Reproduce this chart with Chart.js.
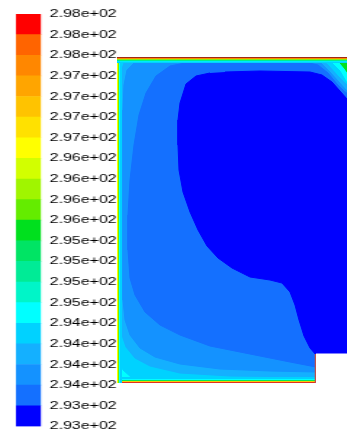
<!DOCTYPE html>
<html>
<head>
<meta charset="utf-8">
<script src="https://cdn.jsdelivr.net/npm/chart.js@4.4.1/dist/chart.umd.min.js"></script>
<style>
  html, body { margin: 0; padding: 0; background: #fff; width: 347px; height: 432px; overflow: hidden; }
  #legendBox { position: absolute; left: 0; top: 0; width: 90px; height: 439px; transform: scaleX(1.45); transform-origin: 0 0; }
  #plotBox { position: absolute; left: 0; top: 0; width: 347px; height: 432px; }
</style>
</head>
<body>
<div id="legendBox"><canvas id="legend"></canvas></div>
<div id="plotBox"><canvas id="plot"></canvas></div>
<script>
// Static temperature contour levels (K), bottom to top of the colour bar
const levels = [293.15, 293.40, 293.65, 293.90, 294.15, 294.40, 294.65, 294.90, 295.15, 295.40,
                295.65, 295.90, 296.15, 296.40, 296.65, 296.90, 297.15, 297.40, 297.65, 297.90, 298.15];
const tickLabels = ["2.93e+02", "2.93e+02", "2.94e+02", "2.94e+02", "2.94e+02", "2.94e+02", "2.95e+02",
                    "2.95e+02", "2.95e+02", "2.95e+02", "2.96e+02", "2.96e+02", "2.96e+02", "2.96e+02",
                    "2.97e+02", "2.97e+02", "2.97e+02", "2.97e+02", "2.98e+02", "2.98e+02", "2.98e+02"];
// One colour per band between consecutive levels (coldest first)
const bandColors = ["#0000ff", "#1470ff", "#1492ff", "#14b0ff", "#00d2ff", "#00ffff", "#00f5c8",
                    "#00eb96", "#00e464", "#00e01e", "#64ec00", "#a0f500", "#d2ff00", "#ffff00",
                    "#ffe100", "#ffc300", "#ffa500", "#ff8700", "#ff6400", "#ff0000"];

// Iso-temperature regions in cm (x from the left wall, y from the floor).
// Each region holds every point colder than its upper level.
const fieldDomain = [[0,0],[283,0],[283,326],[0,326]];
const isoBand6 = [[0,0],[283,0],[283,305],[236,305],[231,308],[227,314],[222,320],[217,326],[0,326]];
const isoBand5 = [[30,0],[283,0],[283,297],[236,297],[230,300],[223,312],[216,319],[209,326],[0,326],
                  [0,26],[6,13],[15,5]];
const isoBand4 = [[13,326],[7,320],[4,311],[4,63],[5,48],[9,36],[18,25],[33,17],[63,10],[113,7],[199,6],
                  [283,6],[283,292],[236,292],[228,300],[220,308],[211,318],[201,326]];
const isoBand3 = [[28,326],[18,321],[10,313],[7,298],[6,273],[6,83],[8,63],[13,48],[23,35],[38,26],[63,19],
                  [103,14],[153,12],[199,11],[283,11],[283,288],[236,288],[229,293],[221,302],[212,312],
                  [203,321],[197,326]];
const isoBand2 = [[73,321],[53,317],[39,307],[29,290],[22,268],[17,238],[13,203],[11,168],[11,133],[13,105],
                  [18,88],[28,71],[43,58],[63,48],[93,37],[133,29],[173,21],[199,16],[283,16],[283,286],
                  [236,286],[228,291],[220,299],[211,310],[201,318],[188,321]];
const isoBand1 = [[93,310],[79,307],[69,299],[63,280],[61,263],[61,238],[62,213],[66,191],[73,171],[81,153],
                  [90,137],[101,125],[115,115],[133,106],[153,103],[165,100],[173,91],[178,78],[182,63],
                  [187,47],[193,35],[199,28],[203,25],[283,25],[283,283],[230,284],[223,292],[215,301],
                  [205,308],[193,311],[143,312],[108,311]];

// Heated walls and the step in the floor
const topWall = [[0,326],[283,326]];
const leftWall = [[0,0],[0,326]];
const bottomWall = [[0,0],[199,0]];
const stepWall = [[199,0],[199,29]];
const stepSolid = [[199,29],[300,29],[300,-20],[199,-20]];

const toPts = a => a.map(([x, y]) => ({ x, y }));
const layers = [];
function region(poly, color) {
  layers.push({ data: toPts(poly), fill: 'shape', backgroundColor: color, borderColor: color,
                borderWidth: 1, pointRadius: 0, pointHoverRadius: 0, clip: 0 });
}
function wall(path, width, color) {
  layers.push({ data: toPts(path), fill: false, borderColor: color, borderWidth: width,
                borderCapStyle: 'butt', pointRadius: 0, pointHoverRadius: 0, clip: 0 });
}

region(fieldDomain, bandColors[9]);
region(isoBand6, bandColors[5]);
region(isoBand5, bandColors[4]);
region(isoBand4, bandColors[3]);
region(isoBand3, bandColors[2]);
region(isoBand2, bandColors[1]);
region(isoBand1, bandColors[0]);

// thin thermal boundary layers along the walls (outer half clipped by the plot area)
wall(bottomWall, 12, bandColors[4]);
wall(bottomWall, 8, bandColors[5]);
wall(bottomWall, 5.6, bandColors[9]);
wall(bottomWall, 4, bandColors[13]);
wall(bottomWall, 2.4, "#e0301e");
wall(leftWall, 10, bandColors[4]);
wall(leftWall, 6, bandColors[5]);
wall(leftWall, 4, bandColors[10]);
wall(leftWall, 2.2, bandColors[13]);
wall(topWall, 12, bandColors[4]);
wall(topWall, 9, bandColors[5]);
wall(topWall, 7, bandColors[9]);
wall(topWall, 5, bandColors[13]);
wall(topWall, 3.6, bandColors[18]);
wall(topWall, 2, "#a02814");
wall(stepWall, 2.5, "#c0504a");
region(stepSolid, "#ffffff");

// painted in list order
layers.forEach((d, i) => { d.order = layers.length - i; });

new Chart(document.getElementById('plot'), {
  type: 'line',
  data: { datasets: layers },
  options: {
    responsive: true, maintainAspectRatio: false, animation: false, events: [],
    layout: { padding: { left: 117, top: 57, right: 0, bottom: 49 } },
    plugins: { legend: { display: false }, tooltip: { enabled: false } },
    scales: {
      x: { type: 'linear', min: 0, max: 230, display: false },
      y: { type: 'linear', min: 0, max: 326, display: false }
    }
  }
});

new Chart(document.getElementById('legend'), {
  type: 'bar',
  data: {
    labels: [''],
    datasets: bandColors.map((c, i) => ({
      data: [[levels[i], levels[i + 1]]], backgroundColor: c, borderWidth: 0,
      barPercentage: 1, categoryPercentage: 1, grouped: false
    }))
  },
  options: {
    responsive: true, maintainAspectRatio: false, animation: false, events: [],
    layout: { padding: { left: 11, top: 14, bottom: 0, right: 0 } },
    plugins: { legend: { display: false }, tooltip: { enabled: false } },
    scales: {
      x: { display: false },
      y: {
        position: 'right', min: levels[0], max: levels[levels.length - 1], stacked: false,
        grid: { display: false, drawTicks: false }, border: { display: false },
        afterBuildTicks: s => { s.ticks = levels.map(v => ({ value: v })); },
        afterFit: s => { s.width = 61.7; },
        ticks: {
          autoSkip: false, padding: 6, color: '#000',
          font: { family: '"Liberation Sans", Arial, sans-serif', size: 11 },
          callback: (v, i) => tickLabels[i]
        }
      }
    }
  }
});
</script>
</body>
</html>
